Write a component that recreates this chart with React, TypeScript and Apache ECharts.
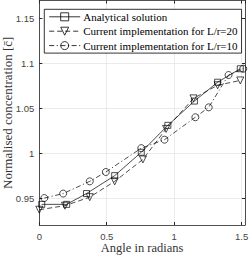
import React, { useEffect, useRef } from "react";
import * as echarts from "echarts";

const seriesNames = [
  "Analytical solution",
  "Current implementation for L/r=20",
  "Current implementation for L/r=10",
];

const analyticalX = [0.018, 0.203, 0.35, 0.559, 0.756, 0.953, 1.15, 1.322, 1.49];
const analyticalY = [0.943, 0.943, 0.955, 0.975, 1.001, 1.031, 1.058, 1.079, 1.094];

const lr20X = [0.0, 0.19, 0.374, 0.559, 0.768, 0.94, 1.143, 1.322, 1.49];
const lr20Y = [0.937, 0.9415, 0.951, 0.9686, 0.993, 1.027, 1.061, 1.0756, 1.081];

const lr10X = [0.037, 0.177, 0.374, 0.493, 0.756, 0.928, 1.157, 1.256, 1.403, 1.512];
const lr10Y = [0.95, 0.955, 0.9686, 0.979, 1.0056, 1.015, 1.04, 1.051, 1.087, 1.094];

const yTicks = [0.95, 1, 1.05, 1.1, 1.15];

const zip = (xs: number[], ys: number[]) => xs.map((x, i) => [x, ys[i]]);

export default function App() {
  const ref = useRef<HTMLDivElement>(null);
  useEffect(() => {
    if (!ref.current) return;
    const chart = echarts.init(ref.current, null, { renderer: "svg" });
    const axisColor = "#262626";
    const gridColor = "#e6e6e6";
    const tickFont = { fontFamily: "Liberation Sans", fontSize: 9.5, color: "#444", lineHeight: 9 };
    const base = {
      type: "line" as const,
      symbolSize: 7,
      showSymbol: true,
      itemStyle: { color: "transparent", borderColor: "#000", borderWidth: 0.7 },
    };
    chart.setOption({
      animation: false,
      backgroundColor: "#fff",
      grid: { left: 39.3, right: 5, top: 0.5, bottom: 30, containLabel: false, outerBoundsMode: "none" },
      legend: {
        orient: "vertical",
        left: 44.3,
        top: 9.3,
        backgroundColor: "#fff",
        borderColor: "#000",
        borderWidth: 0.8,
        borderRadius: 0,
        padding: [2, 4, 2, 4.5],
        itemGap: 3.4,
        itemWidth: 31,
        itemHeight: 10,
        lineStyle: { width: 0.8 },
        itemStyle: { borderWidth: 0.8 },
        textStyle: { fontFamily: "Liberation Serif", fontSize: 11, color: "#000", padding: [0, 0, 0, -2] },
        data: seriesNames,
      },
      xAxis: [
        {
          type: "value",
          min: 0,
          max: 1.525,
          interval: 0.5,
          name: "Angle in radians",
          nameLocation: "middle",
          nameGap: 16,
          nameMoveOverlap: false,
          nameTextStyle: { fontFamily: "Liberation Serif", fontSize: 12.5, color: "#333", lineHeight: 13 },
          axisLine: { show: true, lineStyle: { color: axisColor, width: 0.8 } },
          axisTick: { show: true, inside: true, length: 3, lineStyle: { color: axisColor } },
          axisLabel: { ...tickFont, margin: 7, showMaxLabel: false, formatter: (v: number) => String(v) },
          splitLine: { show: true, lineStyle: { color: gridColor, width: 0.8 } },
        },
        {
          type: "value",
          position: "top",
          min: 0,
          max: 1.525,
          interval: 0.5,
          axisLine: { show: true, onZero: false, lineStyle: { color: axisColor, width: 0.8 } },
          axisTick: { show: true, inside: true, length: 3, lineStyle: { color: axisColor } },
          axisLabel: { show: false },
          splitLine: { show: false },
        },
      ],
      yAxis: [
        {
          type: "value",
          min: 0.92,
          max: 1.17,
          name: "Normalised concentration [c\u0304]",
          nameLocation: "middle",
          nameGap: 25,
          nameMoveOverlap: false,
          nameTextStyle: { fontFamily: "Liberation Serif", fontSize: 13, color: "#333" },
          axisLine: { show: true, onZero: false, lineStyle: { color: axisColor, width: 0.8 } },
          axisTick: { show: true, inside: true, length: 3, customValues: yTicks, lineStyle: { color: axisColor } },
          axisLabel: { ...tickFont, margin: 5, customValues: yTicks, formatter: (v: number) => String(v) },
          splitLine: { show: true, lineStyle: { color: gridColor, width: 0.8 } },
        },
        {
          type: "value",
          position: "right",
          min: 0.92,
          max: 1.17,
          axisLine: { show: true, onZero: false, lineStyle: { color: axisColor, width: 0.8 } },
          axisTick: { show: true, inside: true, length: 3, customValues: yTicks, lineStyle: { color: axisColor } },
          axisLabel: { show: false, customValues: yTicks },
          splitLine: { show: false },
        },
      ],
      series: [
        {
          ...base,
          name: seriesNames[0],
          symbol: "rect",
          symbolSize: 6,
          lineStyle: { color: "#000", width: 0.7, type: "solid" },
          data: zip(analyticalX, analyticalY),
        },
        {
          ...base,
          name: seriesNames[1],
          symbol: "triangle",
          symbolRotate: 180,
          symbolSize: 7,
          lineStyle: { color: "#000", width: 0.7, type: [5, 3] },
          data: zip(lr20X, lr20Y),
        },
        {
          ...base,
          name: seriesNames[2],
          symbol: "circle",
          symbolSize: 7,
          lineStyle: { color: "#000", width: 0.7, type: [5, 2.5, 1.2, 2.5] },
          data: zip(lr10X, lr10Y),
        },
      ],
    });
    return () => chart.dispose();
  }, []);
  return <div ref={ref} style={{ width: 250, height: 255, position: "absolute", left: 0, top: 0 }} />;
}
